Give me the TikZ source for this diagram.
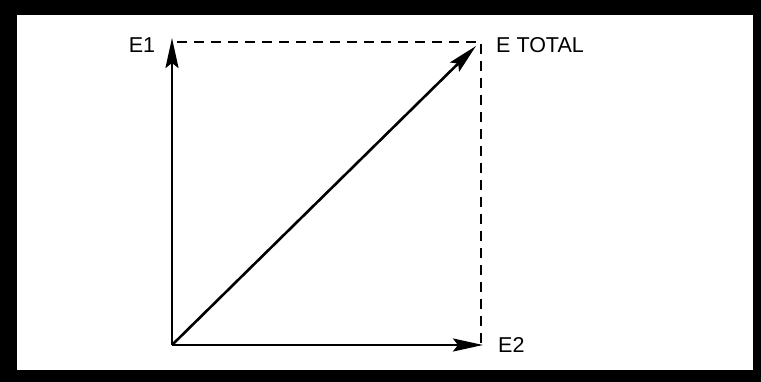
\documentclass[tikz,border=0pt]{standalone}
\usepackage{fontspec}
\setmainfont{Liberation Sans}
\usetikzlibrary{arrows.meta}
\begin{document}
\begin{tikzpicture}[x=1pt,y=-1pt,
  vec/.style={line width=2.6pt,-{Stealth[length=30pt,width=13pt,inset=5pt]}},
  dsh/.style={line width=2.6pt,dash pattern=on 10pt off 7pt},
  lbl/.style={font=\fontsize{21.5}{23}\selectfont,inner sep=0pt}]
\useasboundingbox (0,0) rectangle (761,382);
\fill[black] (0,0) rectangle (761,382);
\fill[white] (17,15) rectangle (753,370);
\coordinate (O) at (172,345);
\coordinate (A) at (172,38);
\coordinate (B) at (483,345);
\coordinate (C) at (476,46);
\coordinate (K) at (481,42);
\draw[dsh] (177,42) -- (K) -- (481,343);
\draw[vec] (O) -- (A);
\draw[vec] (O) -- (B);
\draw[vec] (O) -- (C);
\node[lbl] (l1) at (142,45) {E1};
\node[lbl,anchor=west] (lt) at (496,45) {E TOTAL};
\node[lbl,anchor=west] (l2) at (498,345) {E2};
\end{tikzpicture}
\end{document}
